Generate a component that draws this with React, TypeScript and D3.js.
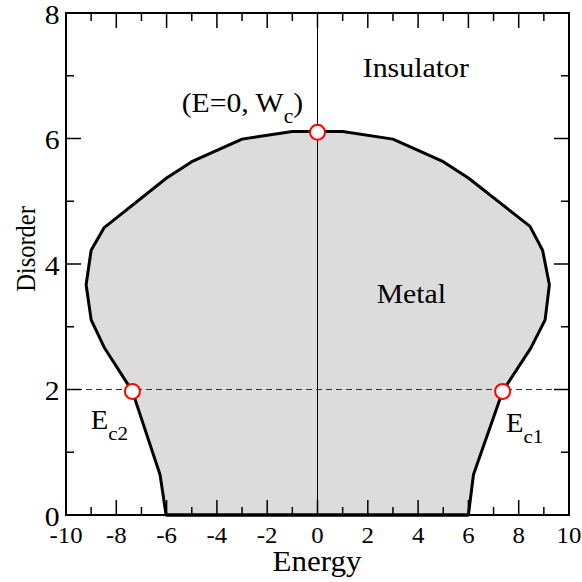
import React from "react";
import * as d3 from "d3";

// ---- data ----
const boundaryEnergy = [
  -6.02, -6.26, -7.36, -8.48, -9.0, -9.2, -9.0, -8.48, -6.0, -5.0, -3.0, -1.0, 0.0,
  1.0, 3.0, 5.0, 6.0, 8.45, 8.95, 9.22, 9.05, 8.48, 7.36, 6.2, 6.0,
];
const boundaryDisorder = [
  0.0, 0.64, 1.97, 2.67, 3.11, 3.67, 4.22, 4.58, 5.37, 5.63, 5.99, 6.11, 6.11,
  6.11, 5.99, 5.63, 5.37, 4.6, 4.22, 3.67, 3.11, 2.66, 1.97, 0.64, 0.0,
];
const criticalEnergy = [0, -7.36, 7.36];
const criticalDisorder = [6.1, 1.97, 1.97];
const dashedDisorder = 2;
const xTicks = [-10, -8, -6, -4, -2, 0, 2, 4, 6, 8, 10];
const xMinor = d3.range(-10, 11, 1);
const yTicks = [0, 2, 4, 6, 8];
const yMinor = d3.range(0, 9, 1);

const W = 582;
const H = 582;
const L = 66, R = 569, T = 13, B = 515;
const SX = 1.08;
const FONT = "'Liberation Serif', 'Times New Roman', Times, serif";

export default function App() {
  const x = d3.scaleLinear().domain([-10, 10]).range([L, R]);
  const y = d3.scaleLinear().domain([0, 8]).range([B, T]);
  const pts: [number, number][] = boundaryEnergy.map((e, i) => [e, boundaryDisorder[i]]);
  const line = d3
    .line<[number, number]>()
    .x((d) => x(d[0]))
    .y((d) => y(d[1]))
    .curve(d3.curveLinear);
  const path = line(pts) + "Z";

  const txt = (
    tx: number,
    ty: number,
    content: React.ReactNode,
    size: number,
    anchor: string = "start",
    rot = 0
  ) => (
    <text
      transform={`translate(${tx},${ty}) scale(${SX},1)${rot ? ` rotate(${rot})` : ""}`}
      fontFamily={FONT}
      fontSize={size}
      textAnchor={anchor}
      fill="#000"
    >
      {content}
    </text>
  );

  return (
    <svg
      width={W}
      height={H}
      style={{ position: "absolute", left: 0, top: 0, background: "#fff" }}
    >
      <rect x={0} y={0} width={W} height={H} fill="#fff" />
      {/* metal region */}
      <path d={path} fill="#dcdcdc" stroke="none" />
      {/* vertical line at E=0 */}
      <line x1={x(0)} x2={x(0)} y1={y(0)} y2={y(8)} stroke="#000" strokeWidth={1} />
      {/* dashed line */}
      <line
        x1={x(-10)}
        x2={x(10)}
        y1={y(dashedDisorder)}
        y2={y(dashedDisorder)}
        stroke="#333"
        strokeWidth={1}
        strokeDasharray="6,4"
      />
      <path d={path} fill="none" stroke="#000" strokeWidth={3} strokeLinejoin="round" />
      {/* ticks */}
      <g stroke="#000" strokeWidth={1.5}>
        {xMinor.map((v) => {
          const len = v % 2 === 0 ? 15 : 8;
          return (
            <g key={"xt" + v}>
              <line x1={x(v)} x2={x(v)} y1={B} y2={B - len} />
              <line x1={x(v)} x2={x(v)} y1={T} y2={T + len} />
            </g>
          );
        })}
        {yMinor.map((v) => {
          const len = v % 2 === 0 ? 15 : 8;
          return (
            <g key={"yt" + v}>
              <line x1={L} x2={L + len} y1={y(v)} y2={y(v)} />
              <line x1={R} x2={R - len} y1={y(v)} y2={y(v)} />
            </g>
          );
        })}
      </g>
      {/* frame */}
      <rect x={L} y={T} width={R - L} height={B - T} fill="none" stroke="#000" strokeWidth={2} />
      <line x1={x(-6.02)} x2={x(6.0)} y1={B} y2={B} stroke="#000" strokeWidth={3} />
      {/* critical points */}
      {criticalEnergy.map((e, i) => (
        <circle
          key={"c" + i}
          cx={x(e)}
          cy={y(criticalDisorder[i])}
          r={7.5}
          fill="#fff"
          stroke="#ff0000"
          strokeWidth={2}
        />
      ))}
      {/* tick labels */}
      {xTicks.map((v) => (
        <g key={"xl" + v}>{txt(x(v), 542.5, String(v), 23, "middle")}</g>
      ))}
      {yTicks.map((v) => (
        <g key={"yl" + v}>{txt(59.5, y(v) + 10.5, String(v), 27.5, "end")}</g>
      ))}
      {/* axis titles */}
      {txt(317, 571, "Energy", 28.7, "middle")}
      {txt(35, 249, "Disorder", 24.5, "middle", -90)}
      {/* annotations */}
      {txt(362.7, 76.7, "Insulator", 27.7)}
      {txt(376.7, 302.7, "Metal", 27.5)}
      {txt(
        181.7,
        112,
        <>
          <tspan>(E=0, W</tspan>
          <tspan fontSize={20} dy={11}>c</tspan>
          <tspan dy={-11}>)</tspan>
        </>,
        27.5
      )}
      {txt(
        90.7,
        429.3,
        <>
          <tspan>E</tspan>
          <tspan fontSize={19.5} dy={11}>c2</tspan>
        </>,
        26.5
      )}
      {txt(
        506,
        432.3,
        <>
          <tspan>E</tspan>
          <tspan fontSize={19.5} dy={11}>c1</tspan>
        </>,
        26.5
      )}
    </svg>
  );
}
